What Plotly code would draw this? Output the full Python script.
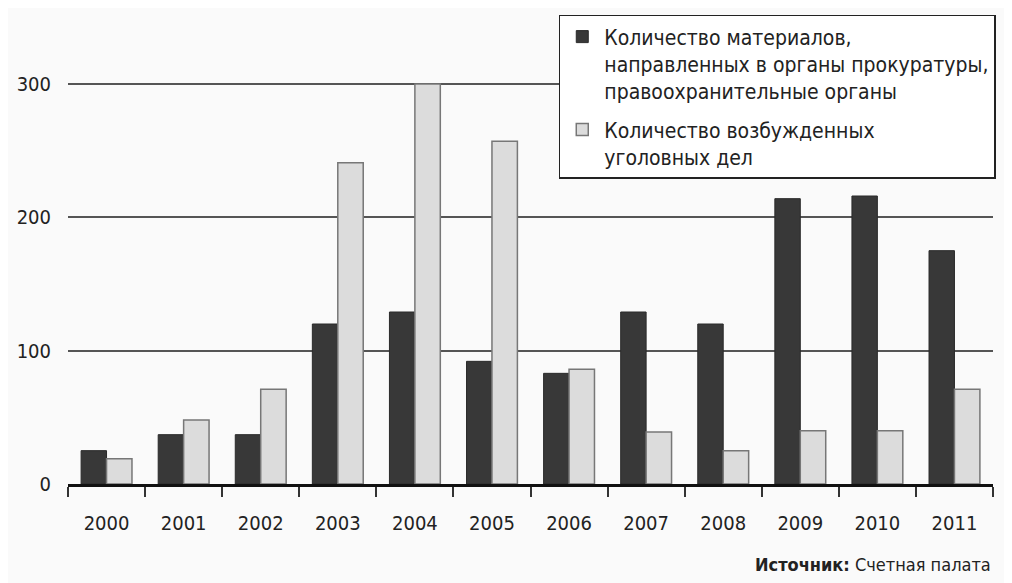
import plotly.graph_objects as go

years = ["2000", "2001", "2002", "2003", "2004", "2005", "2006", "2007", "2008", "2009", "2010", "2011"]
materials = [25, 37, 37, 120, 129, 92, 83, 129, 120, 214, 216, 175]
cases = [19, 48, 71, 241, 300, 257, 86, 39, 25, 40, 40, 71]
y_ticks = [0, 100, 200, 300]

name_materials = "Количество материалов,<br>направленных в органы прокуратуры,<br>правоохранительные органы"
name_cases = "Количество возбужденных<br>уголовных дел"

FONT = "DejaVu Sans Condensed"

fig = go.Figure()
fig.add_trace(go.Bar(x=years, y=materials, name=name_materials, legendgroup="a",
                     marker=dict(color="#383838", line=dict(color="#2a2a2a", width=1))))
fig.add_trace(go.Bar(x=years, y=cases, name=name_cases, legendgroup="b",
                     marker=dict(color="#dcdcdc", line=dict(color="#777777", width=1.5))))

fig.update_layout(
    width=1004, height=575,
    paper_bgcolor="#fafafa", plot_bgcolor="#fafafa",
    margin=dict(l=60, r=19, t=36, b=99, autoexpand=False),
    barmode="group", bargap=0.34, bargroupgap=0,
    font=dict(family=FONT, size=20, color="#222222"),
    legend=dict(x=1.003, xanchor="right", y=1.066, yanchor="top",
                bgcolor="#ffffff", bordercolor="#222222", borderwidth=1.5,
                font=dict(family=FONT, size=21, color="#222222"),
                tracegroupgap=8, itemwidth=34, traceorder="grouped", valign="top"),
    showlegend=True,
)
fig.update_xaxes(type="category", tickson="boundaries", ticks="outside", ticklen=10,
                 tickcolor="#333333", tickwidth=1.5, showgrid=False, automargin=False,
                 showline=True, linecolor="#111111", linewidth=3,
                 ticklabelstandoff=19, tickfont=dict(family=FONT, size=20, color="#222222"))
fig.update_yaxes(range=[0, 330], tickvals=y_ticks, showgrid=True, gridcolor="#555555",
                 gridwidth=2, zeroline=False, showline=False, ticks="", automargin=False,
                 ticklabelstandoff=16, tickfont=dict(family=FONT, size=20, color="#222222"))

fig.add_annotation(text="<b>Источник:</b> Счетная палата", xref="paper", yref="paper",
                   x=1.0, xanchor="right", y=-0.184, yanchor="middle", showarrow=False,
                   font=dict(family=FONT, size=18, color="#222222"))

fig.write_html("out.html")
